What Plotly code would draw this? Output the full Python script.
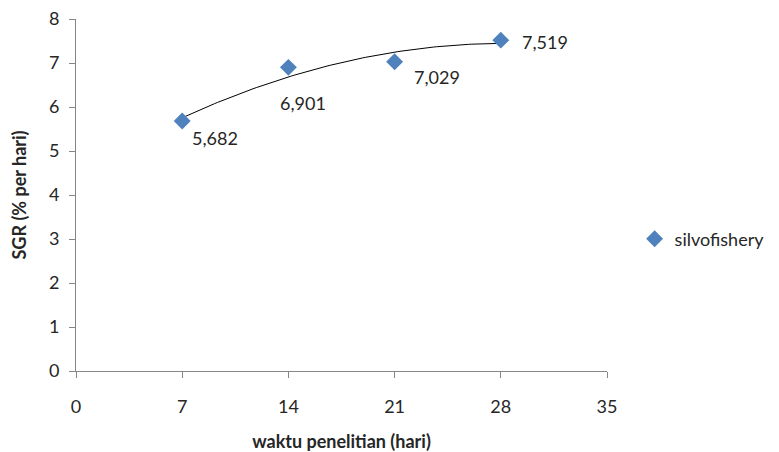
import numpy as np
import plotly.graph_objects as go

days = [7, 14, 21, 28]
sgr = [5.682, 6.901, 7.029, 7.519]
labels = ["5,682", "6,901", "7,029", "7,519"]
x_ticks = [0, 7, 14, 21, 28, 35]
y_ticks = [0, 1, 2, 3, 4, 5, 6, 7, 8]

# polynomial (order 2) trendline through the data
coef = np.polyfit(days, sgr, 2)
tx = np.linspace(min(days), max(days), 100)
ty = np.polyval(coef, tx)

font_family = "Lato, 'Open Sans', sans-serif"
txt = "#262626"

fig = go.Figure()
fig.add_trace(go.Scatter(x=tx, y=ty, mode="lines",
                         line=dict(color="black", width=1),
                         showlegend=False, hoverinfo="skip"))
fig.add_trace(go.Scatter(x=days, y=sgr, mode="markers", name="silvofishery",
                         marker=dict(symbol="diamond", size=13, color="#4F81BD")))

# label offsets (px) relative to each point
offsets = [(33, -17), (15, -36), (42, -15), (44, -2)]
for xv, yv, t, (dx, dy) in zip(days, sgr, labels, offsets):
    fig.add_annotation(x=xv, y=yv, text=t, showarrow=False,
                       xshift=dx, yshift=dy,
                       font=dict(family=font_family, size=18, color=txt))

fig.update_layout(
    width=779, height=452,
    margin=dict(l=68, r=180, t=11, b=89),
    paper_bgcolor="white", plot_bgcolor="white",
    font=dict(family=font_family, size=18, color=txt),
    showlegend=True,
    legend=dict(x=1.052, y=0.375, xanchor="left", yanchor="middle",
                font=dict(family=font_family, size=18, color=txt),
                itemwidth=30, tracegroupgap=0),
    xaxis=dict(range=[0, 35], tickvals=x_ticks, showgrid=False, zeroline=False,
               showline=True, linecolor="#868686", linewidth=1,
               ticks="outside", ticklen=6, tickcolor="#868686",
               ticklabelstandoff=13, automargin=False, ticklabeloverflow="allow",
               title=dict(text="<b>waktu penelitian (hari)</b>", standoff=19,
                          font=dict(size=18))),
    yaxis=dict(range=[0, 8], tickvals=y_ticks, showgrid=False, zeroline=False,
               showline=True, linecolor="#868686", linewidth=1,
               ticks="outside", ticklen=6, tickcolor="#868686",
               ticklabelstandoff=6, automargin=False, ticklabeloverflow="allow",
               title=dict(text="<b>SGR (% per hari)</b>", standoff=22,
                          font=dict(size=18))),
)

fig.write_html("out.html")
